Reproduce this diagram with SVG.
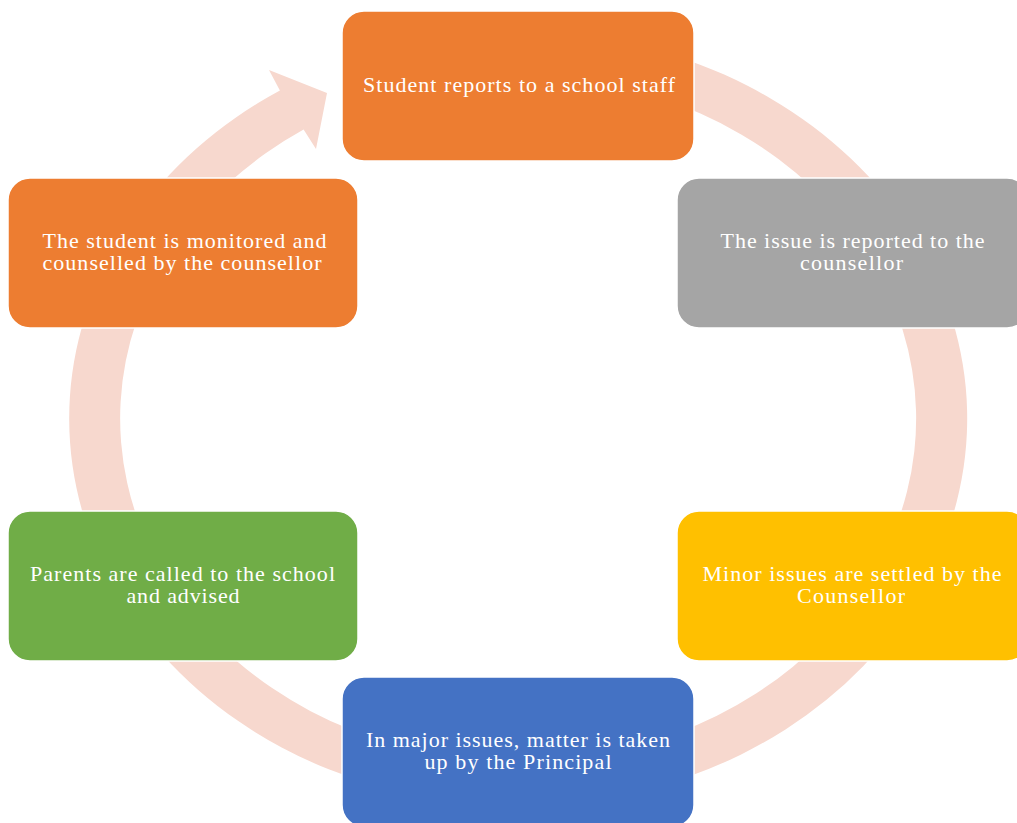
<svg xmlns="http://www.w3.org/2000/svg" width="1017" height="823" viewBox="0 0 1017 823">
<style>
.box{stroke:#ffffff;stroke-width:1.5}
.t{font-family:"Liberation Serif","Times New Roman",serif;font-size:22px;fill:#ffffff;text-anchor:middle}
</style>
<rect width="1017" height="823" fill="#ffffff"/>
<g id="connectors">
<path d="M518,31.5 A449,387 0 1 1 279.9,90.5 L269,70 L327,93 L316,149 L303.6,129.6 A398,343 0 1 0 518,75.5 Z" fill="#F7D8CE"/>
</g>
<g id="n1"><rect class="box" x="342" y="11" width="352" height="150" rx="22" fill="#ED7D31"/><text class="t" x="519" y="92" textLength="312" lengthAdjust="spacing">Student reports to a school staff</text></g>
<g id="n2"><rect class="box" x="677" y="178" width="352" height="150" rx="22" fill="#A5A5A5"/><text class="t" x="852.5" y="248" textLength="264" lengthAdjust="spacing">The issue is reported to the</text><text class="t" x="851.5" y="270" textLength="103" lengthAdjust="spacing">counsellor</text></g>
<g id="n3"><rect class="box" x="677" y="511" width="352" height="150" rx="22" fill="#FFC000"/><text class="t" x="852" y="581" textLength="299" lengthAdjust="spacing">Minor issues are settled by the</text><text class="t" x="851" y="603" textLength="108" lengthAdjust="spacing">Counsellor</text></g>
<g id="n4"><rect class="box" x="342" y="677" width="352" height="150" rx="22" fill="#4472C4"/><text class="t" x="518" y="747" textLength="304" lengthAdjust="spacing">In major issues, matter is taken</text><text class="t" x="518" y="769" textLength="187" lengthAdjust="spacing">up by the Principal</text></g>
<g id="n5"><rect class="box" x="8" y="511" width="350" height="150" rx="22" fill="#70AD47"/><text class="t" x="182.5" y="581" textLength="305" lengthAdjust="spacing">Parents are called to the school</text><text class="t" x="183" y="603" textLength="113" lengthAdjust="spacing">and advised</text></g>
<g id="n6"><rect class="box" x="8" y="178" width="350" height="150" rx="22" fill="#ED7D31"/><text class="t" x="184.5" y="248" textLength="284" lengthAdjust="spacing">The student is monitored and</text><text class="t" x="182" y="270" textLength="279" lengthAdjust="spacing">counselled by the counsellor</text></g>
</svg>
